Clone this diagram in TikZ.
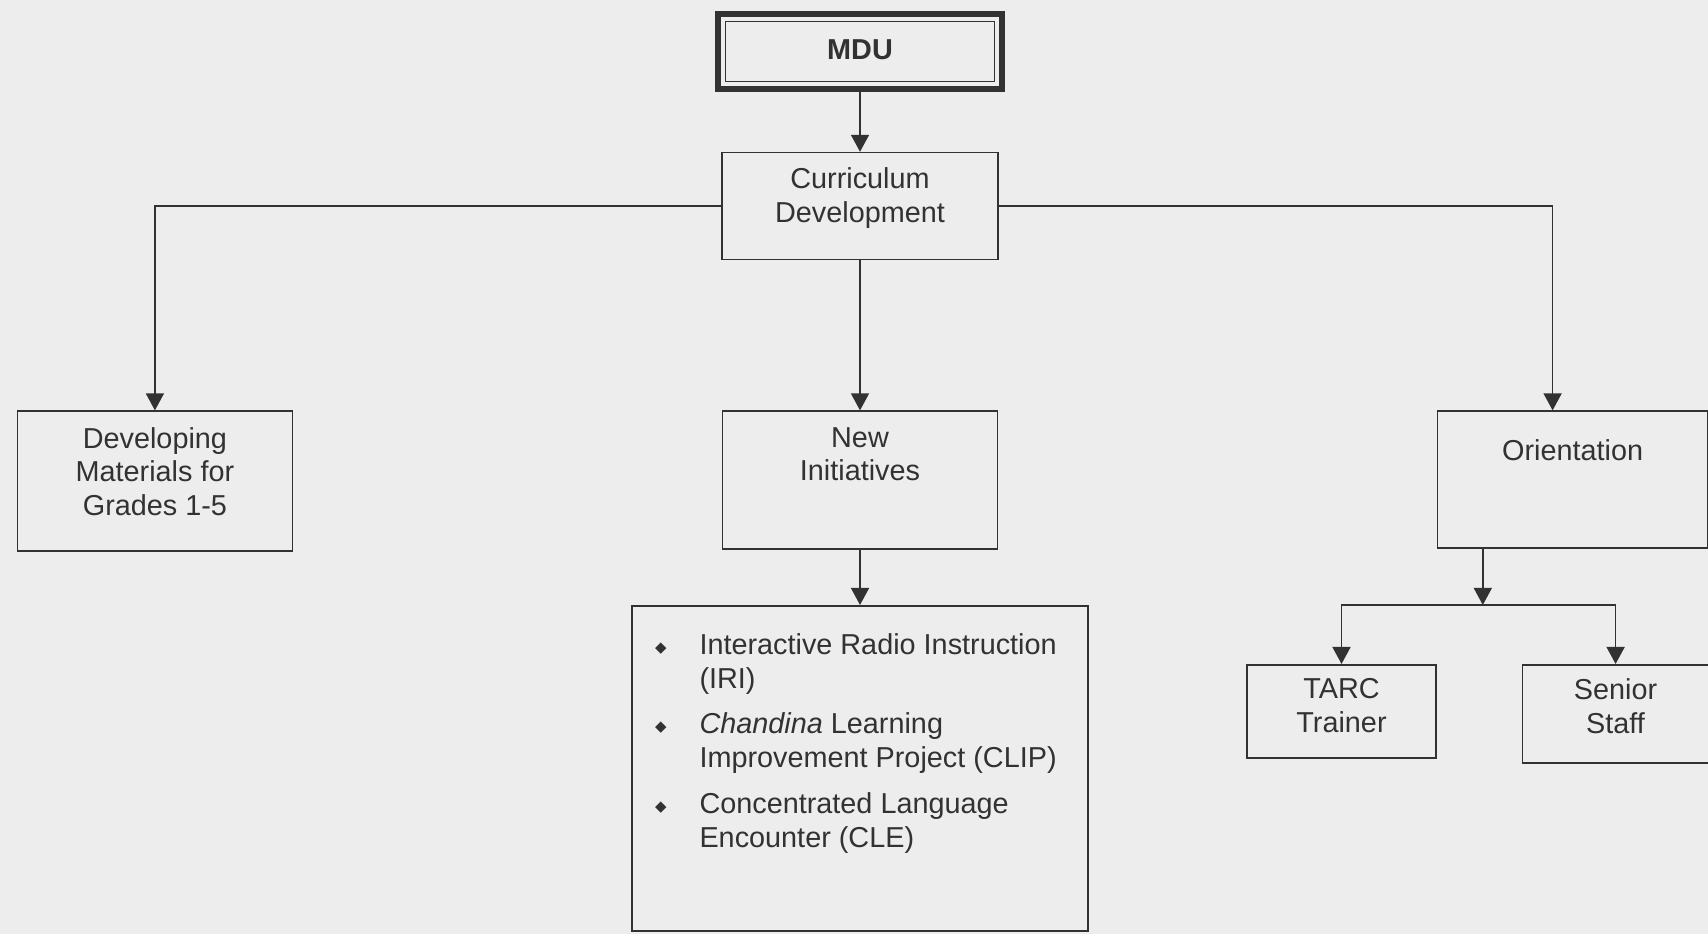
\documentclass[tikz,border=0pt]{standalone}
\usepackage{fontspec}
\setmainfont{Liberation Sans}
\newfontfamily\dingfont{DejaVu Sans}
\usetikzlibrary{arrows.meta, positioning}
\usepackage{xcolor}
\definecolor{paper}{RGB}{237,237,237}
\definecolor{ink}{RGB}{50,50,50}
\newcommand{\boxlines}[4]{\parbox[c][#2][t]{#1}{\vspace*{#3}\centering #4}}
\newcommand{\bul}{\raisebox{1.2pt}{\dingfont\fontsize{8.5}{9}\selectfont ◆}}

\begin{document}
\begin{tikzpicture}[
    node distance=1.2cm,
    box/.style={draw=ink, line width=0.9pt, rectangle, inner sep=0pt, text=ink, font=\fontsize{16.4}{19.2}\selectfont},
    head/.style={box, line width=3.2pt, minimum width=5.68cm, minimum height=1.5cm, font=\fontsize{16.4}{19.2}\selectfont\bfseries},
    arrow/.style={draw=ink, line width=0.9pt, -{Triangle[length=0.34cm, width=0.36cm]}}
]

\fill[paper] (0,0) rectangle (34.16,18.68);
\useasboundingbox (0,0) rectangle (34.16,18.68);

\node[head] (mdu) at (17.2,17.65) {\raisebox{0.09cm}{MDU}};
\draw[ink, line width=0.8pt] ([shift={(0.21,0.21)}]mdu.south west) rectangle ([shift={(-0.21,-0.21)}]mdu.north east);

\node[box, below=1.2cm of mdu] (cd) {\boxlines{5.52cm}{2.14cm}{0.31cm}{Curriculum\\Development}};
\node[box, below left=3cm and 8.56cm of cd] (dev) {\boxlines{5.5cm}{2.8cm}{0.32cm}{Developing\\Materials for\\Grades 1-5}};
\node[box, below=3cm of cd] (ni) {\boxlines{5.5cm}{2.76cm}{0.32cm}{New\\Initiatives}};
\node[box, below right=3cm and 8.76cm of cd] (ori) {\boxlines{5.4cm}{2.74cm}{0.57cm}{Orientation}};
\node[box, below=1.1cm of ni] (list) {\parbox[c][6.5cm][t]{9.12cm}{\vspace*{0.5cm}\hspace*{0.46cm}%
    \begin{tabular}[t]{@{}p{0.89cm}@{}l@{}}
    \bul & Interactive Radio Instruction\\
         & (IRI)\\[0.24cm]
    \bul & \textit{Chandina} Learning\\
         & Improvement Project (CLIP)\\[0.24cm]
    \bul & Concentrated Language\\
         & Encounter (CLE)
    \end{tabular}}};
\node[box, below left=2.3cm and 0cm of ori] (tarc) {\boxlines{3.78cm}{1.86cm}{0.28cm}{TARC\\Trainer}};
\node[box, right=1.7cm of tarc.north east, anchor=north west] (senior) {\boxlines{3.72cm}{1.96cm}{0.28cm}{Senior\\Staff}};
\coordinate[below right=1.12cm and 0.92cm of ori.south west] (bus);

\draw[arrow] (mdu) -- (cd);
\draw[arrow] (cd.west) -| (dev);
\draw[arrow] (cd) -- (ni);
\draw[arrow] (cd.east) -| ([xshift=-0.4cm]ori.north);
\draw[arrow] (ni) -- (list);
\draw[arrow] (ori.south -| bus) -- (bus);
\draw[arrow] (bus) -| (tarc);
\draw[arrow] (bus) -| (senior);

\end{tikzpicture}
\end{document}
